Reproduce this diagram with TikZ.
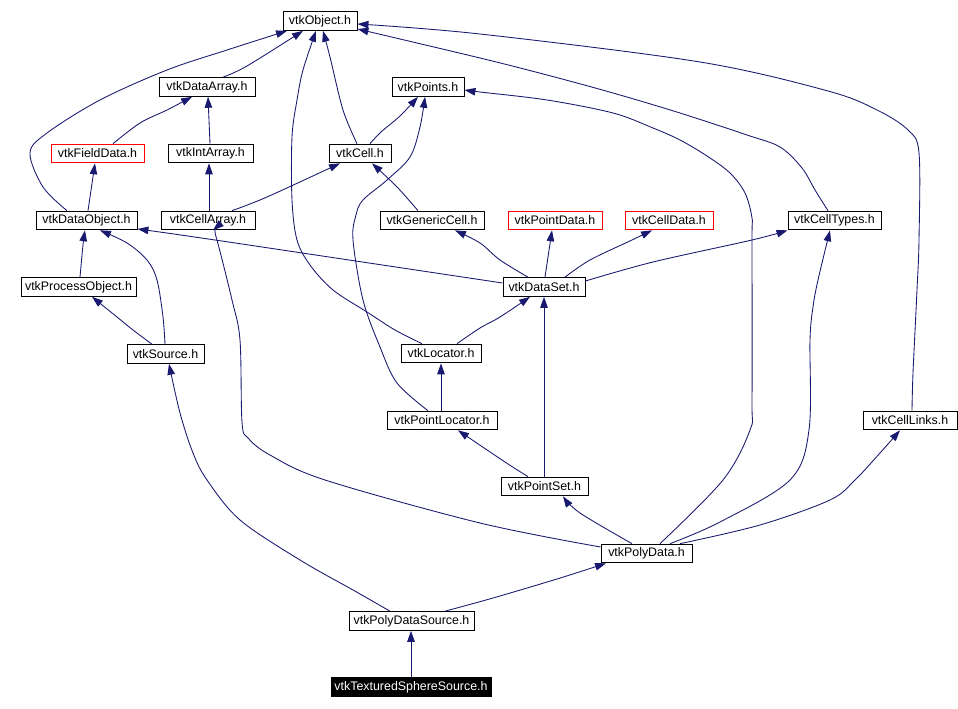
\documentclass[tikz,border=0pt]{standalone}
\usepackage{fontspec}
\setmainfont{Liberation Sans}
\usetikzlibrary{arrows.meta}
\definecolor{edgec}{HTML}{191970}
\tikzset{
  box/.style={draw=black, line width=0.75pt, fill=white, minimum height=14pt, inner sep=0pt, font=\fontsize{9.3pt}{10pt}\selectfont, text=black},
  redbox/.style={box, draw=red},
  blackbox/.style={box, fill=black, draw=black, text=white},
  edge/.style={draw=edgec, line width=0.65pt, -{Triangle[length=8.2pt,width=5.6pt]}},
  sm/.style={smooth, tension=0.55}
}
\begin{document}
\begin{tikzpicture}[x=0.75pt, y=-0.75pt]
\useasboundingbox[fill=white] (0,0) rectangle (958,709);
% nodes
\node[box, minimum width=55.5pt] (obj) at (320,21) {vtkObject.h};
\node[box, minimum width=72pt] (darr) at (207,87) {vtkDataArray.h};
\node[box, minimum width=54pt] (pts) at (428,87) {vtkPoints.h};
\node[redbox, minimum width=69.75pt] (fdata) at (97.5,153.5) {vtkFieldData.h};
\node[box, minimum width=63.75pt] (iarr) at (210.5,153.5) {vtkIntArray.h};
\node[box, minimum width=46.5pt] (cell) at (360,153.5) {vtkCell.h};
\node[box, minimum width=75.75pt] (dobj) at (86.5,220.5) {vtkDataObject.h};
\node[box, minimum width=70.5pt] (carr) at (208,220.5) {vtkCellArray.h};
\node[box, minimum width=78pt] (gcell) at (432,220.5) {vtkGenericCell.h};
\node[redbox, minimum width=70.5pt] (pdata) at (555,220.5) {vtkPointData.h};
\node[redbox, minimum width=66pt] (cdata) at (669,220.5) {vtkCellData.h};
\node[box, minimum width=69.75pt] (ctypes) at (834.5,220.5) {vtkCellTypes.h};
\node[box, minimum width=86.25pt] (pobj) at (78.5,287) {vtkProcessObject.h};
\node[box, minimum width=61.5pt] (dset) at (544,287) {vtkDataSet.h};
\node[box, minimum width=57.75pt] (src) at (165.5,354) {vtkSource.h};
\node[box, minimum width=60pt] (loc) at (441,353.5) {vtkLocator.h};
\node[box, minimum width=82.5pt] (ploc) at (442,420.5) {vtkPointLocator.h};
\node[box, minimum width=70.5pt] (clinks) at (910,420.5) {vtkCellLinks.h};
\node[box, minimum width=65.25pt] (pset) at (544.5,486.5) {vtkPointSet.h};
\node[box, minimum width=68.25pt] (pdat) at (646.5,553.5) {vtkPolyData.h};
\node[box, minimum width=93.75pt] (pds) at (411.5,621) {vtkPolyDataSource.h};
\node[blackbox, minimum width=120pt] (tss) at (411,687) {vtkTexturedSphereSource.h};
% edges
\draw[edge] plot[sm] coordinates {(darr.north -| 223,0) (247,66) (obj.south -| 303,0)};
\draw[edge] plot[sm] coordinates {(dobj.north -| 67,0) (43,187) (30,153) (47,133) (100,100) (167,70) (227,50) (obj.south -| 287,0)};
\draw[edge] plot[sm] coordinates {(fdata.north -| 113,0) (140,123) (167,110) (darr.south -| 192,0)};
\draw[edge] (iarr.north -| 210,0) -- (darr.south -| 208,0);
\draw[edge] (carr.north -| 209,0) -- (iarr.south -| 209,0);
\draw[edge] plot[sm] coordinates {(cell.north -| 357,0) (343,110) (330,57) (obj.south -| 323,0)};
\draw[edge] plot[sm] coordinates {(cell.north -| 370,0) (381,132) (400,116) (pts.south -| 418,0)};
\draw[edge] plot[sm] coordinates {(carr.north -| 232,0) (267,197) (cell.south -| 340,0)};
\draw[edge] plot[sm] coordinates {(gcell.north -| 418,0) (397,187) (cell.south -| 372,0)};
\draw[edge] (dobj.north -| 88,0) -- (fdata.south -| 95,0);
\draw[edge] plot[sm] coordinates {(pobj.north -| 80,0) (83,245) (dobj.south -| 85,0)};
\draw[edge] plot[sm] coordinates {(src.north -| 152,0) (133,330) (117,317) (pobj.south -| 92,0)};
\draw[edge] plot[sm] coordinates {(src.north -| 165,0) (163,317) (157,280) (147,260) (127,243) (dobj.south -| 100,0)};
\draw[edge] plot[sm] coordinates {(dset.west |- 0,283) (215,240) (dobj.east |- 0,229)};
\draw[edge] plot[sm] coordinates {(dset.north -| 528,0) (500,260) (480,243) (gcell.south -| 455,0)};
\draw[edge] plot[sm] coordinates {(dset.north -| 545,0) (548,257) (pdata.south -| 552,0)};
\draw[edge] plot[sm] coordinates {(dset.north -| 565,0) (590,260) (632,240) (cdata.south -| 652,0)};
\draw[edge] plot[sm] coordinates {(dset.east |- 0,281) (653,262) (752,240) (ctypes.south west)};
\draw[edge] plot[sm] coordinates {(pdat.north -| 670,0) (720,522) (790,480) (809,430) (810,340) (813,307) (818,280) (ctypes.south -| 830,0)};
\draw[edge] plot[sm] coordinates {(pdat.north -| 660,0) (723,480) (750,430) (752,400) (752,240) (752,218) (745,193) (730,173) (707,156) (680,140) (653,128) (613,113) (547,100) (480,92) (pts.east |- 0,90)};
\draw[edge] plot[sm] coordinates {(pdat.north -| 680,0) (760,525) (830,500) (855,480) (880,453) (clinks.south -| 900,0)};
\draw[edge] plot[sm] coordinates {(clinks.north -| 912,0) (913,373) (917,290) (919,240) (919,153) (908,130) (877,110) (828,91) (700,62) (480,34) (obj.east |- 0,24)};
\draw[edge] plot[sm] coordinates {(ctypes.north -| 828,0) (815,190) (802,168) (780,147) (747,135) (680,113) (613,93) (547,75) (480,58) (obj.east |- 0,29)};
\draw[edge] plot[sm] coordinates {(loc.north -| 422,0) (395,330) (367,312) (333,290) (310,265) (297,240) (292,200) (292,137) (297,100) (303,70) (obj.south -| 316,0)};
\draw[edge] plot[sm] coordinates {(loc.north -| 457,0) (480,328) (500,317) (dset.south -| 530,0)};
\draw[edge] (ploc.north -| 441,0) -- (loc.south -| 441,0);
\draw[edge] plot[sm] coordinates {(ploc.north -| 428,0) (397,383) (380,347) (363,300) (353,240) (356,215) (363,200) (387,180) (410,157) (420,127) (pts.south -| 425,0)};
\draw[edge] plot[sm] coordinates {(pset.north -| 528,0) (505,462) (ploc.south -| 458,0)};
\draw[edge] (pset.north -| 544,0) -- (dset.south -| 544,0);
\draw[edge] plot[sm] coordinates {(pdat.north -| 632,0) (580,513) (pset.south -| 563,0)};
\draw[edge] plot[sm] coordinates {(pdat.west |- 0,547) (480,523) (325,480) (270,455) (248,438) (242,422) (240,340) (232,300) (217,240) (carr.south -| 213,0)};
\draw[edge] plot[sm] coordinates {(pds.north -| 445,0) (493,598) (557,579) (pdat.south -| 606,0)};
\draw[edge] plot[sm] coordinates {(pds.north -| 390,0) (353,590) (300,560) (240,520) (207,480) (193,453) (180,413) (src.south -| 169,0)};
\draw[edge] (tss.north -| 411,0) -- (pds.south -| 411,0);
\end{tikzpicture}
\end{document}
